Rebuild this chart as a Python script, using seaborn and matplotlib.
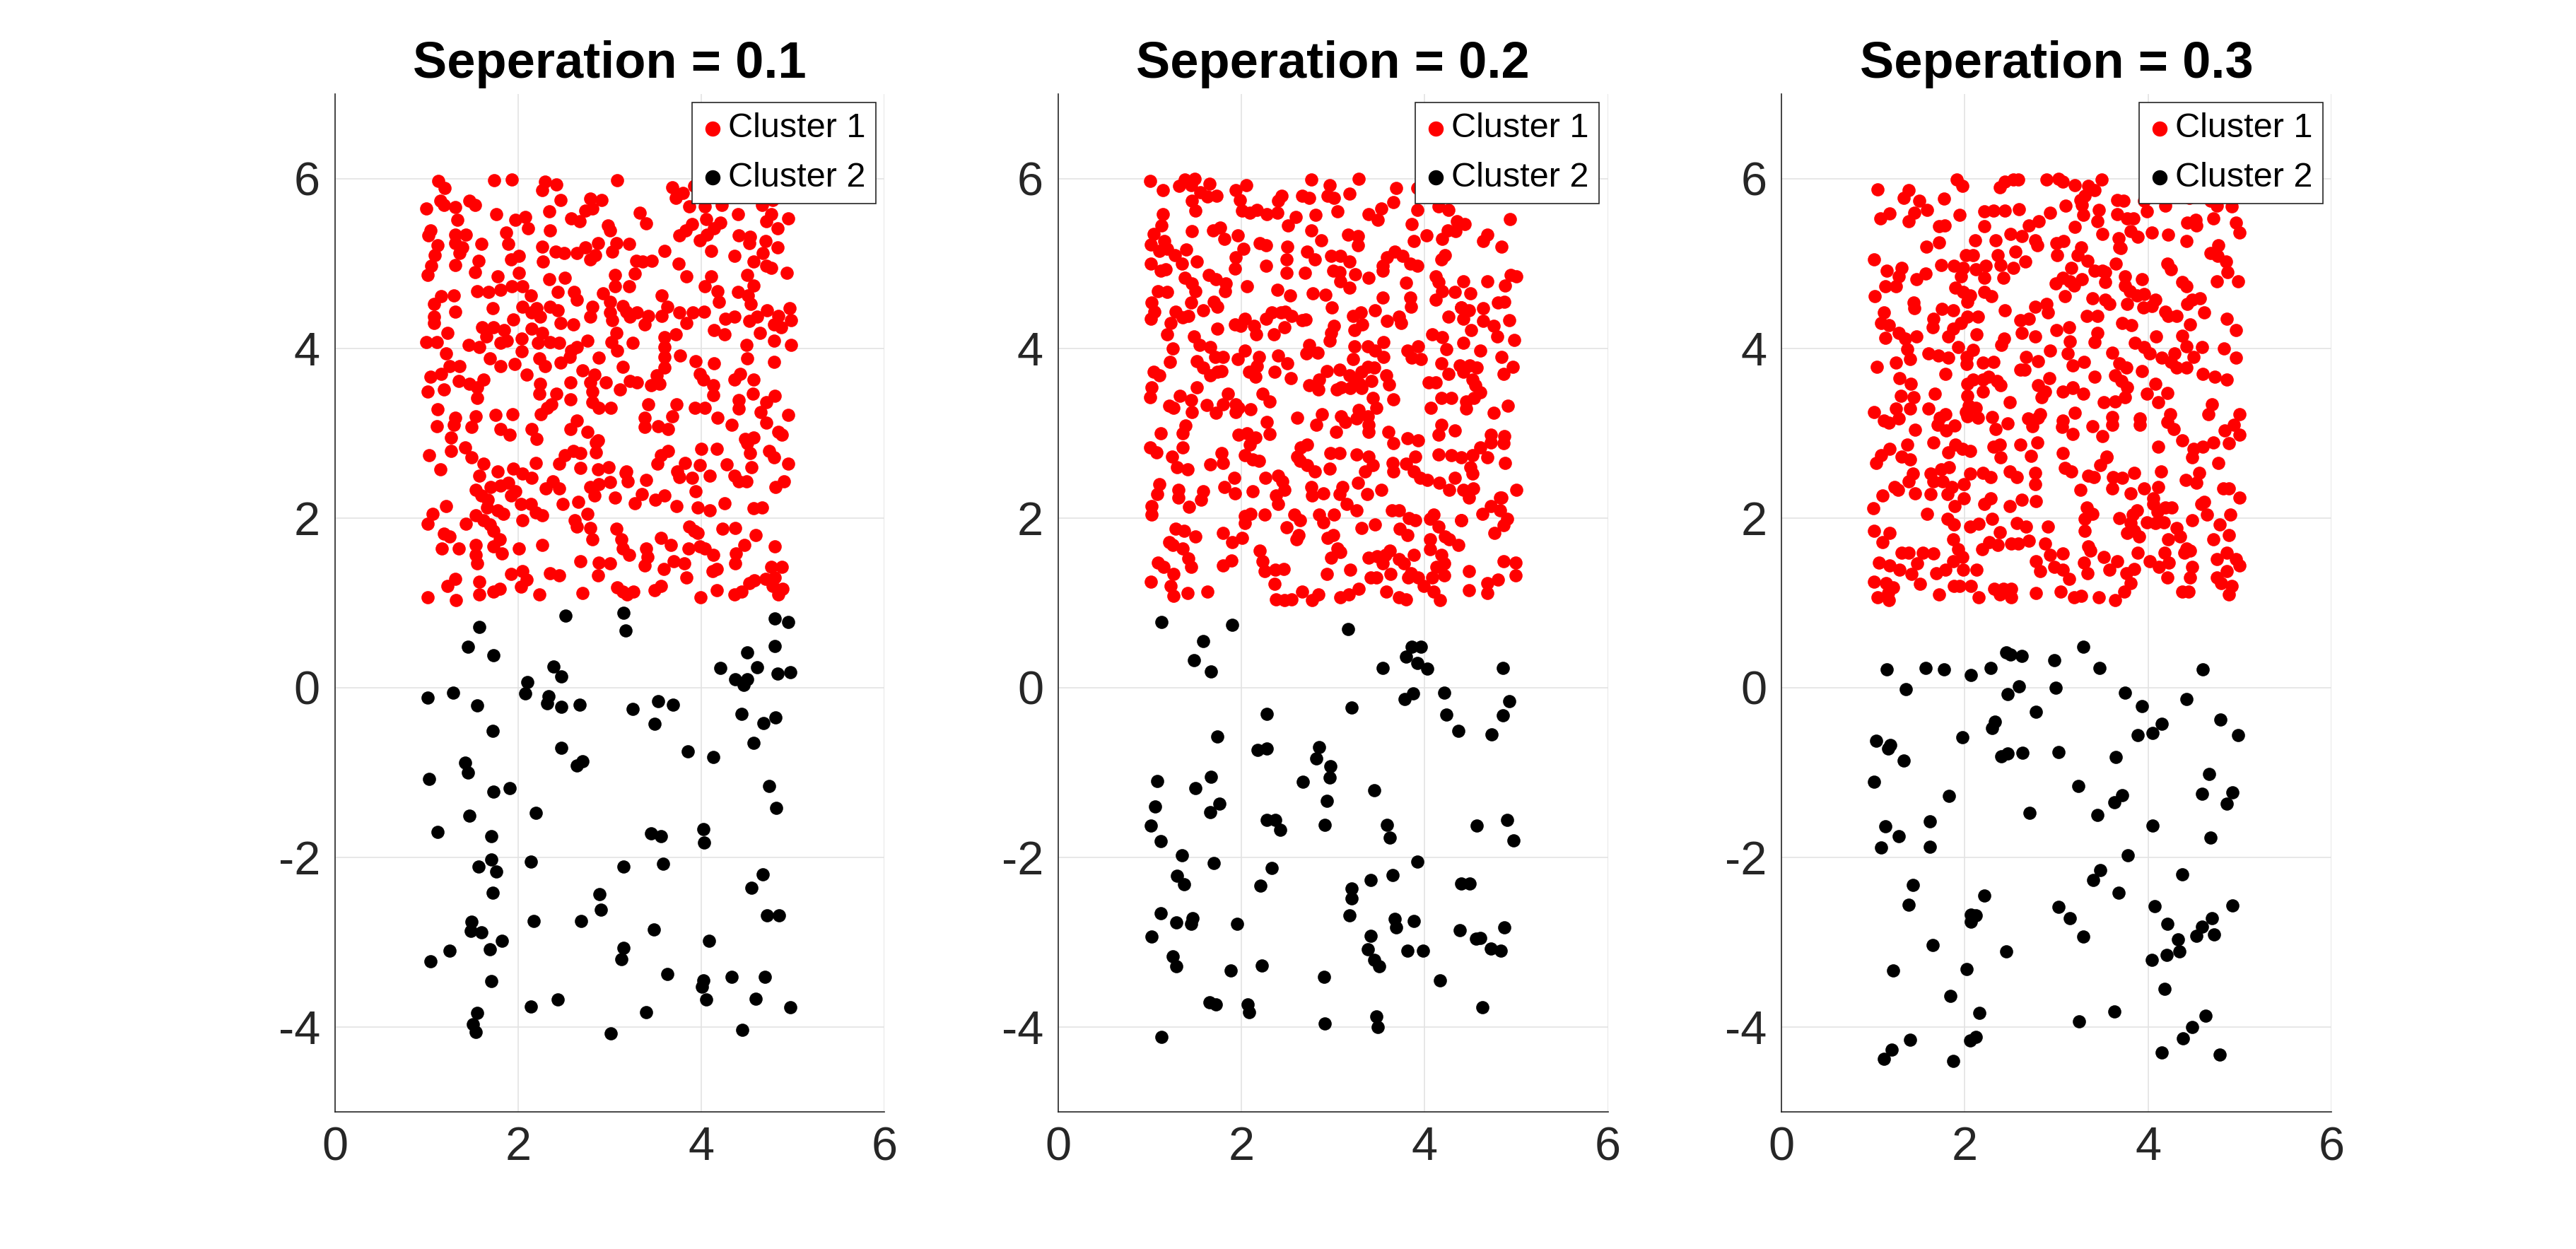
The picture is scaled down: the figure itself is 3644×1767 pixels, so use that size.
import pandas as pd
import matplotlib.pyplot as plt
import seaborn as sns

sns.set_style("white")
plt.rcParams['font.family'] = ['Liberation Sans', 'DejaVu Sans']
plt.rcParams['axes.unicode_minus'] = False

separations = [0.1, 0.2, 0.3]
legend_labels = ['Cluster 1', 'Cluster 2']

red_pts_1 = [
    (1.13,5.97),(1.20,5.89),(1.74,5.98),(1.93,5.99),(2.29,5.96),(2.42,5.93),(2.26,5.86),(3.08,5.98),(3.68,5.90),(3.80,5.83),(3.92,5.91),
    (1.00,5.65),(1.15,5.74),(1.19,5.69),(1.31,5.66),(1.47,5.74),(1.53,5.69),(1.76,5.58),(2.46,5.75),(2.34,5.61),(2.79,5.76),(2.91,5.75),
    (2.81,5.65),(2.73,5.62),(3.33,5.60),(3.72,5.77),(3.87,5.67),(4.04,5.67),(4.22,5.69),(4.40,5.58),(4.66,5.69),(4.78,5.75),(4.95,5.53),(4.76,5.58),
    (1.34,5.51),(1.97,5.51),(2.08,5.55),(2.11,5.41),(2.58,5.53),(2.67,5.50),(2.98,5.45),(3.00,5.39),(3.40,5.47),(4.05,5.52),(3.90,5.46),
    (3.83,5.39),(4.21,5.48),(4.14,5.41),(4.71,5.50),(4.83,5.41),(3.76,5.33),(4.06,5.34),(1.04,5.39),(1.02,5.33),(1.31,5.34),(1.43,5.34),
    (1.87,5.36),(2.35,5.39),(4.41,5.33),(4.53,5.31),
    (1.12,5.21),(1.31,5.24),(1.39,5.19),(1.60,5.23),(1.89,5.23),(2.26,5.20),(2.41,5.14),(2.50,5.12),(2.64,5.12),(2.73,5.19),(2.87,5.24),
    (2.84,5.10),(3.07,5.24),(3.21,5.23),(3.03,5.14),(3.60,5.15),(3.98,5.27),(4.11,5.15),(4.52,5.24),(4.70,5.26),(4.83,5.19),(4.36,5.09),
    (4.67,5.12),(1.09,5.10),(1.36,5.12),(1.92,5.05),(2.01,5.09),(1.57,5.03),
    (1.05,4.97),(1.31,4.98),(1.53,4.90),(2.27,5.02),(1.78,4.85),(2.01,4.89),(2.79,5.05),(3.29,5.03),(3.36,5.02),(3.46,5.03),(3.27,4.88),
    (3.06,4.86),(3.75,5.00),(3.84,4.85),(4.57,5.02),(4.71,4.97),(4.76,4.95),(4.93,4.89),(4.50,4.86),(4.11,4.85),(1.01,4.86),(2.34,4.81),
    (2.51,4.83),(4.04,4.73),(4.57,4.74),
    (1.55,4.67),(1.68,4.66),(1.81,4.69),(1.93,4.73),(2.05,4.73),(1.16,4.61),(1.30,4.62),(1.08,4.52),(2.14,4.62),(2.43,4.66),(2.61,4.66),
    (2.64,4.57),(2.93,4.65),(3.06,4.73),(3.21,4.73),(3.00,4.55),(3.57,4.62),(4.18,4.67),(4.19,4.55),(4.40,4.66),(4.51,4.62),(4.54,4.52),(2.81,4.49),
    (1.31,4.43),(1.72,4.47),(2.05,4.49),(2.20,4.47),(2.35,4.49),(2.43,4.45),(2.15,4.42),(2.24,4.37),(1.08,4.37),(1.08,4.30),(1.95,4.34),
    (2.79,4.37),(3.00,4.42),(3.14,4.50),(3.18,4.43),(3.30,4.42),(3.42,4.38),(3.22,4.37),(3.03,4.33),(3.57,4.38),(3.63,4.49),(3.76,4.42),
    (3.91,4.42),(4.03,4.43),(3.84,4.30),(4.26,4.35),(4.36,4.37),(4.52,4.32),(4.61,4.37),(4.72,4.45),(4.84,4.38),(4.96,4.47),(4.98,4.33),
    (4.79,4.28),(4.87,4.25),(2.46,4.30),(2.60,4.28),(3.38,4.28),
    (1.61,4.25),(1.73,4.25),(1.85,4.21),(1.65,4.14),(1.23,4.18),(1.00,4.07),(1.11,4.07),(1.46,4.04),(1.58,4.01),(1.81,4.06),(1.88,4.09),
    (2.04,4.11),(2.15,4.23),(2.26,4.18),(2.22,4.06),(2.35,4.07),(2.45,4.06),(2.04,3.96),(2.76,4.09),(2.64,4.01),(2.58,3.97),(3.02,4.07),
    (3.07,4.18),(3.08,3.97),(3.25,4.06),(3.60,4.13),(3.72,4.16),(3.60,4.01),(4.14,4.21),(4.25,4.16),(4.64,4.18),(4.49,4.04),(4.79,4.09),
    (4.98,4.04),(3.60,3.90),(1.21,3.94),
    (1.36,3.79),(1.25,3.79),(1.16,3.70),(1.04,3.66),(1.69,3.88),(1.81,3.79),(1.96,3.81),(2.23,3.88),(2.29,3.79),(2.46,3.83),(2.56,3.90),
    (2.88,3.89),(2.70,3.74),(2.83,3.69),(3.14,3.78),(3.77,3.91),(3.60,3.77),(3.51,3.68),(3.94,3.85),(4.14,3.82),(3.98,3.70),(4.50,3.88),
    (4.42,3.70),(4.36,3.63),(4.79,3.84),(2.09,3.69),
    (1.01,3.49),(1.19,3.51),(1.35,3.61),(1.47,3.58),(1.55,3.54),(1.62,3.63),(1.55,3.41),(2.24,3.58),(2.23,3.46),(2.42,3.46),(2.57,3.60),
    (2.57,3.40),(2.79,3.60),(2.81,3.49),(2.96,3.60),(3.11,3.51),(3.22,3.61),(3.30,3.60),(3.45,3.56),(3.54,3.58),(4.02,3.63),(4.13,3.56),
    (4.13,3.45),(4.57,3.63),(4.56,3.46),(4.41,3.39),(4.80,3.44),(4.71,3.36),
    (1.12,3.28),(1.31,3.18),(1.54,3.20),(1.75,3.21),(1.94,3.22),(2.25,3.22),(2.32,3.30),(2.36,3.34),(2.81,3.36),(2.88,3.30),(3.01,3.30),
    (3.42,3.34),(3.73,3.34),(3.93,3.30),(4.04,3.30),(3.68,3.20),(4.18,3.18),(4.41,3.29),(4.65,3.25),(4.95,3.21),(3.38,3.18),(2.64,3.15),
    (1.11,3.08),(1.30,3.10),(1.49,3.07),(1.81,3.05),(1.91,2.98),(2.15,3.05),(2.20,2.93),(2.57,3.05),(2.76,3.01),(2.87,2.91),(3.38,3.07),
    (3.53,3.08),(3.64,3.05),(4.33,3.10),(4.71,3.12),(4.84,3.01),(4.88,2.98),(1.27,2.95),(4.48,2.93),(4.57,2.95),
    (1.27,2.79),(1.42,2.83),(1.49,2.71),(1.03,2.74),(1.15,2.57),(1.62,2.64),(1.78,2.55),(1.95,2.58),(2.19,2.65),(2.51,2.74),(2.60,2.79),
    (2.68,2.76),(2.45,2.64),(2.85,2.77),(2.85,2.89),(2.68,2.59),(2.87,2.57),(2.99,2.60),(3.18,2.55),(3.56,2.74),(3.64,2.79),(3.52,2.64),
    (3.74,2.55),(3.82,2.65),(4.00,2.81),(4.17,2.81),(3.98,2.62),(4.28,2.63),(4.50,2.88),(4.53,2.76),(4.74,2.79),(4.79,2.71),(4.55,2.60),(4.95,2.64),
    (1.58,2.50),(1.54,2.33),(1.70,2.36),(1.81,2.38),(1.89,2.41),(2.05,2.52),(2.15,2.47),(2.30,2.35),(2.38,2.43),(2.45,2.35),(2.79,2.36),
    (2.88,2.40),(3.00,2.42),(3.17,2.53),(3.20,2.43),(3.40,2.45),(3.76,2.48),(3.90,2.47),(4.09,2.50),(3.94,2.31),(4.36,2.50),(4.41,2.43),
    (4.49,2.43),(4.81,2.36),(4.90,2.43),
    (1.60,2.26),(1.67,2.21),(1.92,2.26),(1.97,2.31),(2.03,2.16),(2.14,2.16),(2.49,2.16),(2.66,2.19),(2.83,2.26),(3.06,2.24),(3.27,2.17),
    (3.35,2.28),(3.50,2.21),(3.60,2.26),(3.73,2.14),(3.96,2.12),(4.09,2.09),(4.25,2.17),(4.57,2.11),(4.66,2.12),(1.21,2.14),(1.66,2.12),
    (1.78,2.09),(1.84,2.05),(1.54,2.03),(2.19,2.06),(2.26,2.03),(2.76,2.05),
    (1.07,2.05),(1.01,1.93),(1.43,1.93),(1.69,1.92),(1.62,1.97),(2.05,1.97),(2.62,1.97),(2.64,1.90),(2.79,1.88),(3.07,1.87),(3.87,1.90),
    (3.92,1.85),(3.96,1.82),(4.23,1.87),(4.37,1.88),(4.59,1.80),(1.19,1.81),(1.25,1.78),(1.73,1.85),
    (1.17,1.64),(1.35,1.64),(1.54,1.68),(1.54,1.56),(1.73,1.66),(1.80,1.75),(1.82,1.58),(2.01,1.64),(2.26,1.68),(2.81,1.75),(3.13,1.75),
    (3.14,1.64),(3.21,1.56),(3.40,1.64),(3.41,1.54),(3.56,1.76),(3.67,1.68),(3.86,1.64),(3.98,1.66),(4.04,1.64),(4.13,1.56),(4.38,1.58),
    (4.47,1.68),(4.37,1.46),(4.80,1.66),(2.68,1.49),(1.55,1.46),
    (2.88,1.47),(3.00,1.46),(2.87,1.32),(3.59,1.40),(3.70,1.49),(3.81,1.46),(3.38,1.44),(4.12,1.37),(4.17,1.40),(4.76,1.42),(4.88,1.42),
    (4.80,1.30),(1.31,1.28),(1.23,1.20),(1.58,1.25),(1.92,1.34),(2.05,1.37),(2.09,1.27),(2.03,1.19),(2.35,1.35),(2.45,1.32),(3.84,1.30),
    (4.70,1.28),(4.52,1.23),(4.58,1.26),
    (1.01,1.06),(1.32,1.03),(1.58,1.10),(1.73,1.13),(1.80,1.16),(2.23,1.10),(2.70,1.11),(3.08,1.18),(3.14,1.13),(3.19,1.10),(3.26,1.13),
    (3.49,1.15),(3.56,1.20),(3.99,1.06),(4.17,1.15),(4.36,1.10),(4.44,1.13),(4.84,1.10),(4.89,1.16),(4.78,1.20),
]

# cluster 2 (black) points, panel 1
black_pts_1 = [
    (2.52,0.85),(3.15,0.88),(3.17,0.67),(4.80,0.81),(4.95,0.77),(1.58,0.71),(1.45,0.48),(1.73,0.38),(4.50,0.41),(4.80,0.49),
    (2.39,0.25),(2.47,0.13),(4.21,0.23),(4.61,0.24),(4.83,0.16),(4.97,0.18),(4.37,0.10),(4.50,0.10),(4.46,0.03),(2.10,0.06),
    (2.08,-0.07),(1.01,-0.12),(1.29,-0.06),(1.55,-0.21),(2.33,-0.10),(2.32,-0.19),(2.47,-0.23),(2.67,-0.20),(3.25,-0.25),(3.53,-0.16),
    (3.69,-0.20),(3.49,-0.43),(4.44,-0.31),(4.81,-0.35),(4.68,-0.42),(1.72,-0.51),(4.57,-0.65),(2.47,-0.71),(3.85,-0.75),(4.13,-0.82),
    (2.70,-0.87),(2.64,-0.92),(1.42,-0.89),(1.45,-1.00),(1.03,-1.08),(1.73,-1.23),(1.91,-1.19),(4.74,-1.16),(4.82,-1.42),(2.19,-1.48),
    (1.47,-1.51),(1.12,-1.70),(1.71,-1.75),(3.45,-1.72),(3.56,-1.75),(4.02,-1.67),(4.03,-1.83),(1.71,-2.03),(1.57,-2.11),(1.76,-2.17),
    (2.14,-2.05),(3.15,-2.11),(3.58,-2.08),(4.67,-2.20),(4.55,-2.36),(1.72,-2.42),(2.89,-2.44),(2.90,-2.62),(2.17,-2.75),(2.69,-2.75),
    (1.49,-2.76),(1.48,-2.87),(1.60,-2.89),(1.82,-2.99),(1.69,-3.09),(1.25,-3.10),(1.04,-3.23),(3.48,-2.85),(4.72,-2.69),(4.85,-2.69),
    (4.08,-2.99),(3.15,-3.07),(3.13,-3.20),(3.63,-3.38),(4.02,-3.45),(4.01,-3.53),(4.33,-3.41),(4.69,-3.41),(4.05,-3.68),(4.59,-3.67),
    (4.97,-3.77),(1.71,-3.46),(2.14,-3.76),(2.43,-3.68),(3.40,-3.83),(1.55,-3.84),(1.51,-3.97),(1.54,-4.06),(3.01,-4.08),(4.45,-4.04),
]

# cluster 1 (red) points, panel 2
red_pts_2 = [
    (1.00,5.97),(1.14,5.86),(1.32,5.91),(1.38,5.99),(1.49,6.00),(1.45,5.92),(1.55,5.84),(1.65,5.94),(1.73,5.80),(1.63,5.79),(1.94,5.86),
    (2.05,5.92),(2.44,5.80),(2.40,5.74),(2.66,5.80),(2.74,5.77),(2.76,5.99),(2.96,5.92),(2.94,5.80),(3.01,5.77),(3.18,5.82),(3.28,6.00),
    (3.69,5.89),(3.92,5.89),
    (1.46,5.74),(1.50,5.62),(1.14,5.58),(1.98,5.75),(2.01,5.62),(2.09,5.60),(2.17,5.63),(2.28,5.58),(2.39,5.60),(2.59,5.55),(2.81,5.57),
    (3.05,5.61),(3.39,5.58),(3.49,5.51),(3.53,5.65),(3.66,5.72),(3.92,5.63),(4.15,5.67),(4.26,5.63),(4.93,5.52),(4.72,5.79),
    (1.13,5.45),(1.04,5.35),(1.46,5.38),(1.69,5.39),(1.77,5.42),(1.81,5.29),(1.96,5.33),(2.51,5.45),(2.76,5.39),(2.87,5.27),(3.16,5.34),
    (3.27,5.32),(3.86,5.46),(4.02,5.33),(3.88,5.26),(4.25,5.39),(4.35,5.50),(4.44,5.46),(4.34,5.38),(4.19,5.29),(4.68,5.34),(4.64,5.26),
    (4.84,5.20),(1.01,5.22),(1.16,5.26),
    (1.10,5.15),(1.19,5.17),(1.27,5.10),(1.40,5.16),(1.51,5.02),(1.35,5.00),(1.01,5.00),(2.02,5.17),(1.94,5.07),(1.93,4.94),(2.20,5.24),
    (2.27,5.21),(2.27,4.97),(2.50,5.20),(2.49,5.05),(2.72,5.14),(2.80,5.05),(2.98,5.09),(3.08,5.09),(3.18,5.02),(3.27,5.21),(3.59,5.07),
    (3.67,5.14),(3.76,5.09),(3.84,5.00),(3.92,4.97),(4.22,5.10),(4.18,5.05),(3.54,4.97),
    (1.12,4.91),(1.17,4.93),(2.49,4.89),(2.69,4.89),(3.00,4.91),(3.07,4.90),(3.24,4.87),(3.39,4.83),(3.54,4.91),(3.08,4.79),(3.18,4.71),
    (1.38,4.83),(1.46,4.76),(1.64,4.86),(1.72,4.81),(1.83,4.76),(1.82,4.67),(2.06,4.73),(4.12,4.85),(4.15,4.78),(4.42,4.79),(4.68,4.79),
    (4.94,4.86),(5.00,4.85),(4.88,4.74),(3.80,4.77),
    (1.09,4.67),(1.19,4.66),(1.50,4.67),(1.02,4.54),(1.05,4.43),(1.45,4.54),(1.58,4.45),(1.70,4.55),(1.74,4.49),(2.39,4.69),(2.53,4.62),
    (2.78,4.65),(2.92,4.63),(2.99,4.48),(3.54,4.60),(3.84,4.60),(3.85,4.49),(4.12,4.57),(4.19,4.67),(4.33,4.66),(4.50,4.65),(4.40,4.48),
    (4.48,4.45),(4.64,4.47),(4.80,4.54),(4.87,4.55),(3.46,4.45),
    (1.01,4.35),(1.28,4.43),(1.36,4.36),(1.42,4.38),(1.23,4.30),(1.19,4.16),(1.74,4.23),(1.93,4.28),(2.04,4.35),(2.14,4.26),(2.16,4.16),
    (1.99,4.26),(2.27,4.35),(2.33,4.42),(2.43,4.42),(2.48,4.43),(2.55,4.38),(2.47,4.25),(2.35,4.16),(2.66,4.33),(2.70,4.34),(3.01,4.26),
    (2.98,4.18),(3.22,4.38),(3.30,4.42),(3.32,4.28),(3.23,4.21),(3.59,4.32),(3.72,4.37),(3.74,4.30),(4.26,4.37),(4.42,4.35),(4.40,4.48),
    (4.64,4.32),(4.51,4.21),(4.75,4.26),(4.92,4.33),(4.08,4.16),(4.19,4.13),(4.79,4.14),
    (1.25,4.00),(1.48,4.14),(1.54,4.04),(1.66,4.01),(1.71,3.90),(1.80,3.90),(2.04,3.97),(1.96,3.87),(2.19,3.90),(2.40,3.91),(2.74,4.04),
    (2.71,3.94),(2.83,3.95),(2.96,4.09),(3.23,4.02),(3.22,3.87),(3.38,4.02),(3.46,3.97),(3.55,4.07),(3.55,3.90),(3.81,3.97),(3.93,4.02),
    (3.96,3.87),(3.86,3.89),(4.24,3.99),(4.42,4.06),(4.61,3.97),(4.84,3.90),(4.98,4.10),
    (1.22,3.84),(1.51,3.85),(1.58,3.77),(1.66,3.68),(1.74,3.72),(1.78,3.73),(1.04,3.72),(1.10,3.68),(2.08,3.72),(2.17,3.79),(2.15,3.66),
    (2.36,3.72),(2.50,3.82),(2.54,3.65),(2.74,3.56),(2.85,3.63),(2.93,3.73),(3.07,3.75),(3.18,3.68),(3.23,3.63),(3.31,3.72),(3.38,3.78),
    (3.45,3.77),(3.42,3.61),(3.29,3.58),(3.58,3.68),(3.61,3.57),(4.18,3.82),(4.26,3.70),(4.38,3.80),(4.49,3.80),(4.57,3.77),(4.42,3.72),
    (4.52,3.63),(4.55,3.56),(4.96,3.78),(4.86,3.70),(4.04,3.60),(4.12,3.60),
    (1.02,3.54),(1.00,3.42),(1.51,3.54),(1.33,3.44),(1.45,3.39),(1.21,3.32),(1.26,3.30),(1.62,3.33),(1.85,3.46),(1.80,3.34),(1.94,3.34),
    (1.97,3.30),(2.23,3.46),(2.31,3.37),(2.84,3.51),(3.04,3.51),(3.09,3.54),(3.19,3.53),(3.31,3.53),(3.43,3.41),(3.47,3.30),(3.66,3.40),
    (4.18,3.41),(4.29,3.41),(4.45,3.37),(4.54,3.41),(4.61,3.48),(4.07,3.30),(4.91,3.32),
    (1.46,3.25),(1.72,3.24),(2.10,3.28),(1.94,3.25),(2.61,3.18),(2.28,3.13),(2.88,3.22),(2.82,3.10),(3.09,3.20),(3.13,3.13),(3.26,3.17),
    (3.28,3.27),(3.38,3.20),(3.39,3.10),(4.45,3.29),(4.75,3.24),(1.39,3.09),(4.18,3.10),
    (1.12,3.00),(1.36,3.00),(1.97,2.98),(2.06,3.00),(2.15,2.95),(2.31,2.99),(2.09,2.86),(3.03,3.01),(3.39,3.01),(3.60,3.01),(3.66,2.88),
    (3.81,2.94),(3.93,2.91),(4.15,2.98),(4.33,3.03),(4.72,2.98),(4.87,2.96),(4.72,2.89),(4.86,2.88),(1.00,2.83),(1.07,2.77),(1.36,2.83),
    (2.65,2.83),(2.72,2.86),(4.61,2.83),
    (1.24,2.72),(1.78,2.76),(1.80,2.65),(1.66,2.63),(2.04,2.74),(2.12,2.69),(2.19,2.67),(2.61,2.72),(2.64,2.67),(2.72,2.62),(2.80,2.55),
    (2.97,2.76),(3.07,2.76),(2.96,2.58),(3.26,2.75),(3.39,2.72),(3.43,2.62),(3.35,2.55),(3.65,2.65),(3.66,2.55),(3.80,2.64),(3.90,2.72),
    (4.15,2.75),(4.29,2.74),(4.40,2.71),(4.52,2.74),(4.68,2.71),(4.88,2.65),(4.50,2.60),(4.52,2.52),(1.30,2.60),(1.41,2.57),(3.88,2.55),
    (1.10,2.40),(1.08,2.28),(1.31,2.33),(1.31,2.24),(1.58,2.31),(1.56,2.21),(1.43,2.13),(1.81,2.36),(1.92,2.47),(1.93,2.29),(2.12,2.31),
    (2.26,2.47),(2.40,2.50),(2.45,2.43),(2.47,2.33),(2.38,2.26),(2.40,2.16),(2.76,2.36),(2.77,2.26),(2.89,2.29),(3.10,2.36),(3.07,2.28),
    (3.27,2.41),(3.37,2.28),(3.53,2.33),(3.95,2.47),(4.03,2.45),(4.16,2.41),(4.27,2.33),(4.33,2.47),(4.42,2.33),(4.53,2.35),(4.48,2.24),
    (4.84,2.24),(5.00,2.33),
    (1.02,2.14),(1.02,2.04),(2.04,2.02),(2.10,2.05),(2.25,2.04),(2.58,2.04),(2.64,1.97),(2.85,2.04),(2.89,1.95),(3.01,2.04),(3.15,2.16),
    (3.26,2.09),(3.64,2.09),(3.72,2.09),(3.83,2.00),(3.90,1.97),(4.06,1.99),(4.10,2.04),(4.40,1.97),(4.63,2.05),(4.72,2.14),(4.82,2.09),
    (4.90,1.99),(4.82,2.24),
    (1.28,1.87),(1.37,1.85),(1.50,1.78),(1.21,1.71),(1.25,1.68),(1.80,1.82),(1.90,1.71),(2.01,1.76),(2.04,1.94),(2.49,1.89),(2.62,1.80),
    (2.60,1.75),(2.94,1.76),(3.00,1.80),(3.31,1.88),(3.46,1.92),(3.73,1.87),(3.81,1.80),(4.15,1.90),(4.22,1.78),(4.27,1.75),(4.06,1.75),
    (4.37,1.68),(4.40,1.97),(4.76,1.82),(4.86,1.91),
    (1.36,1.64),(1.42,1.52),(1.45,1.42),(1.09,1.47),(1.15,1.42),(1.89,1.50),(1.80,1.44),(2.20,1.61),(2.23,1.49),(3.05,1.64),(3.08,1.60),
    (2.98,1.53),(3.39,1.53),(3.48,1.55),(3.57,1.56),(3.62,1.61),(3.54,1.46),(3.72,1.51),(3.77,1.46),(3.88,1.56),(4.06,1.63),(4.18,1.56),
    (4.21,1.46),(4.13,1.42),(4.86,1.49),(4.99,1.47),
    (1.01,1.25),(1.26,1.34),(1.23,1.20),(1.26,1.08),(1.41,1.11),(1.63,1.13),(2.25,1.37),(2.37,1.39),(2.46,1.40),(2.36,1.22),(2.38,1.04),
    (2.47,1.03),(2.55,1.04),(2.66,1.13),(2.77,1.03),(2.84,1.10),(2.93,1.34),(3.08,1.06),(3.17,1.10),(3.19,1.39),(3.28,1.16),(3.41,1.30),
    (3.47,1.30),(3.58,1.13),(3.63,1.34),(3.72,1.06),(3.80,1.04),(3.82,1.30),(3.85,1.35),(3.93,1.30),(3.99,1.20),(4.08,1.30),(4.17,1.03),
    (4.10,1.13),(4.21,1.32),(4.48,1.37),(4.48,1.15),(4.68,1.23),(4.68,1.11),(4.80,1.27),(4.99,1.32),
]

# cluster 2 (black) points, panel 2
black_pts_2 = [
    (1.13,0.77),(1.90,0.74),(1.58,0.55),(1.48,0.32),(1.67,0.19),(3.16,0.69),(3.86,0.48),(3.96,0.48),(3.80,0.36),(3.92,0.29),
    (4.03,0.22),(3.54,0.23),(4.85,0.23),(3.87,-0.07),(3.78,-0.14),(4.21,-0.06),(4.92,-0.16),(4.24,-0.32),(4.85,-0.33),(4.37,-0.51),
    (4.73,-0.55),(3.20,-0.24),(2.28,-0.31),(1.74,-0.58),(2.18,-0.74),(2.28,-0.72),(2.85,-0.70),(2.82,-0.84),(2.97,-0.93),(2.96,-1.06),
    (2.67,-1.11),(3.45,-1.21),(1.08,-1.10),(1.50,-1.19),(1.67,-1.05),(1.76,-1.37),(1.66,-1.47),(1.06,-1.40),(1.01,-1.63),(1.12,-1.81),
    (2.93,-1.34),(2.91,-1.62),(2.28,-1.56),(2.37,-1.56),(2.42,-1.68),(3.59,-1.62),(3.62,-1.77),(4.57,-1.63),(4.90,-1.56),(4.97,-1.80),
    (1.35,-1.98),(1.70,-2.07),(1.30,-2.22),(1.37,-2.32),(2.33,-2.13),(2.21,-2.34),(3.92,-2.05),(3.65,-2.21),(3.41,-2.27),(3.20,-2.37),
    (3.20,-2.49),(4.40,-2.31),(4.49,-2.31),(3.18,-2.69),(3.67,-2.73),(3.69,-2.83),(3.88,-2.75),(3.41,-2.93),(3.38,-3.09),(3.45,-3.21),
    (3.50,-3.29),(3.81,-3.10),(3.98,-3.10),(4.38,-2.86),(4.56,-2.96),(4.61,-2.95),(4.72,-3.08),(4.83,-3.10),(4.87,-2.83),(4.17,-3.45),
    (4.63,-3.77),(1.12,-2.66),(1.29,-2.77),(1.47,-2.72),(1.45,-2.79),(1.02,-2.94),(1.95,-2.79),(1.25,-3.17),(1.29,-3.29),(1.88,-3.34),
    (2.22,-3.28),(2.90,-3.41),(1.65,-3.71),(1.72,-3.74),(2.07,-3.74),(2.08,-3.83),(2.91,-3.96),(3.47,-3.88),(3.49,-4.00),(1.13,-4.12),
]

# cluster 1 (red) points, panel 3
red_pts_3 = [
    (1.05,5.87),(1.39,5.86),(1.33,5.77),(1.91,5.99),(1.97,5.91),(2.38,5.90),(2.44,5.96),(2.53,5.99),(2.58,5.99),(2.89,5.99),(3.02,6.00),
    (3.07,5.96),(3.20,5.92),(3.35,5.91),(3.42,5.86),(3.49,5.99),(1.77,5.76),(1.50,5.74),(3.26,5.75),(3.31,5.80),(3.66,5.75),(3.73,5.74),
    (3.96,5.74),(4.45,5.77),(4.68,5.74),
    (1.18,5.59),(1.08,5.53),(1.39,5.50),(1.45,5.60),(1.59,5.63),(1.94,5.57),(2.21,5.61),(2.31,5.62),(2.44,5.62),(2.59,5.64),(2.93,5.60),
    (3.10,5.68),(3.28,5.69),(3.29,5.57),(3.46,5.63),(3.66,5.58),(3.77,5.53),(3.84,5.53),(3.99,5.61),(4.19,5.68),(4.75,5.68),(4.91,5.67),
    (4.71,5.53),(4.96,5.48),(4.43,5.48),(4.52,5.51),(3.45,5.50),(1.72,5.44),(1.78,5.45),(2.21,5.44),(2.70,5.45),(2.81,5.50),(3.20,5.43),
    (2.50,5.35),(2.62,5.32),(2.34,5.27),(2.11,5.27),(1.72,5.25),(1.58,5.20),(2.77,5.27),(2.79,5.21),(3.00,5.24),(3.08,5.26),(3.50,5.35),
    (3.68,5.30),(3.70,5.18),(3.81,5.38),(3.89,5.31),(4.04,5.36),(4.22,5.34),(4.42,5.26),(4.53,5.45),(5.00,5.36),(4.77,5.21),(3.27,5.19),
    (1.01,5.05),(1.15,4.91),(1.31,4.95),(1.74,4.98),(1.88,4.97),(2.01,5.10),(2.09,5.10),(1.98,4.95),(2.12,4.93),(2.23,4.97),(2.36,5.10),
    (2.39,4.98),(2.53,4.95),(2.55,5.14),(2.66,5.02),(3.01,5.10),(3.16,4.95),(3.23,5.10),(3.34,5.03),(3.42,4.91),(3.53,4.90),(3.65,5.00),
    (3.69,5.19),(4.21,5.00),(4.25,4.93),(4.68,5.12),(4.76,5.09),(4.85,5.02),(4.87,4.90),
    (1.28,4.85),(1.25,4.73),(1.13,4.73),(1.47,4.81),(1.57,4.88),(1.96,4.85),(2.21,4.83),(2.42,4.83),(1.90,4.71),(2.99,4.76),(3.07,4.83),
    (3.15,4.79),(3.19,4.74),(3.28,4.81),(3.53,4.78),(3.75,4.85),(3.75,4.74),(3.93,4.81),(4.37,4.78),(4.42,4.73),(4.75,4.79),(4.98,4.79),
    (3.50,4.91),(1.02,4.61),(3.80,4.67),
    (1.44,4.54),(1.45,4.47),(1.75,4.46),(1.87,4.45),(1.98,4.66),(2.06,4.62),(2.03,4.55),(2.21,4.66),(2.29,4.61),(2.44,4.45),(2.77,4.49),
    (2.89,4.52),(2.91,4.42),(3.09,4.61),(3.39,4.59),(3.53,4.57),(3.58,4.52),(3.77,4.52),(3.88,4.62),(3.96,4.64),(3.95,4.48),(4.04,4.50),
    (4.08,4.57),(4.19,4.43),(4.31,4.38),(4.43,4.52),(4.48,4.57),(4.57,4.59),(4.61,4.42),(1.12,4.42),(3.33,4.38),(3.45,4.38),(4.22,4.38),
    (1.09,4.30),(1.17,4.27),(1.66,4.35),(1.65,4.25),(1.87,4.23),(1.96,4.30),(2.03,4.37),(2.14,4.37),(1.28,4.18),(1.13,4.12),(1.47,4.14),
    (1.35,4.11),(1.82,4.14),(2.13,4.16),(2.43,4.11),(2.40,4.04),(2.61,4.33),(2.70,4.35),(2.62,4.18),(2.77,4.14),(3.00,4.21),(3.14,4.25),
    (3.45,4.18),(3.72,4.30),(3.82,4.27),(4.09,4.14),(4.37,4.15),(4.46,4.28),(4.86,4.35),(4.96,4.21),
    (1.37,3.99),(1.40,3.87),(1.60,3.94),(1.71,3.91),(1.82,3.89),(1.93,4.01),(2.02,3.90),(2.09,3.98),(2.02,3.81),(1.25,3.83),(1.04,3.78),
    (2.20,3.83),(2.31,3.84),(2.67,3.90),(2.80,3.85),(2.93,3.97),(2.65,3.75),(3.15,4.08),(3.12,3.94),(3.18,3.80),(3.30,3.84),(3.42,4.07),
    (3.61,3.95),(3.69,3.82),(3.76,3.77),(3.86,4.06),(3.96,4.01),(4.02,3.94),(4.15,3.89),(4.25,3.84),(4.29,3.94),(4.42,4.02),(4.50,3.90),
    (4.59,4.01),(4.83,4.00),(4.96,3.89),
    (1.79,3.70),(1.29,3.65),(1.41,3.58),(2.03,3.58),(2.09,3.63),(2.20,3.63),(2.26,3.66),(2.35,3.61),(2.39,3.56),(2.20,3.49),(2.61,3.75),
    (2.80,3.56),(2.92,3.65),(2.88,3.49),(3.42,3.66),(3.64,3.68),(3.71,3.61),(3.77,3.54),(3.93,3.73),(4.08,3.58),(4.31,3.77),(4.42,3.77),
    (4.60,3.70),(4.73,3.66),(4.86,3.63),(3.18,3.54),
    (1.30,3.44),(1.44,3.42),(1.67,3.46),(2.03,3.44),(2.04,3.32),(2.01,3.25),(2.12,3.30),(2.49,3.36),(2.84,3.42),(3.07,3.49),(3.18,3.53),
    (3.29,3.46),(3.64,3.37),(3.75,3.42),(3.52,3.36),(3.99,3.46),(4.21,3.47),(4.11,3.36),(4.70,3.34),(4.66,3.22),(1.01,3.25),(1.25,3.29),
    (1.40,3.29),(1.60,3.29),
    (1.12,3.15),(1.17,3.12),(1.28,3.17),(1.73,3.18),(1.79,3.22),(1.70,3.10),(1.80,3.03),(1.89,3.09),(1.46,3.04),(2.03,3.20),(2.14,3.18),
    (2.30,3.19),(2.34,3.05),(2.47,3.11),(2.69,3.17),(2.80,3.18),(2.74,3.08),(2.82,3.22),(3.07,3.15),(3.06,3.07),(3.20,3.24),(3.18,2.99),
    (3.39,3.08),(3.50,2.96),(3.61,3.19),(3.61,3.10),(3.91,3.17),(3.91,3.10),(4.24,3.22),(4.21,3.13),(4.28,3.05),(4.37,2.91),(5.00,3.22),
    (4.84,3.03),(4.94,3.10),(5.00,2.98),
    (1.18,2.81),(1.09,2.74),(1.03,2.65),(1.37,2.86),(1.31,2.72),(1.40,2.69),(1.66,2.89),(1.82,2.77),(1.90,2.86),(1.97,2.81),(2.06,2.79),
    (2.31,2.84),(2.38,2.86),(2.39,2.71),(2.61,2.86),(2.79,2.89),(2.72,2.73),(3.07,2.76),(4.11,2.84),(4.50,2.81),(4.60,2.84),(4.71,2.89),
    (4.88,2.88),(4.48,2.71),(3.55,2.72),
    (1.43,2.52),(1.39,2.43),(1.63,2.52),(1.66,2.43),(1.74,2.57),(1.83,2.60),(1.76,2.43),(2.06,2.52),(2.20,2.53),(2.28,2.48),(2.49,2.55),
    (2.57,2.48),(2.77,2.53),(3.09,2.59),(3.16,2.55),(3.48,2.62),(3.35,2.50),(3.41,2.48),(3.62,2.48),(3.72,2.47),(3.85,2.53),(4.14,2.55),
    (4.56,2.53),(4.77,2.65),(3.55,2.71),
    (1.10,2.26),(1.23,2.36),(1.27,2.33),(1.46,2.29),(1.63,2.28),(1.81,2.28),(1.86,2.36),(1.99,2.40),(1.99,2.23),(2.28,2.23),(2.21,2.16),
    (2.62,2.21),(2.77,2.40),(2.78,2.20),(2.49,2.14),(3.26,2.33),(3.61,2.35),(3.81,2.29),(3.96,2.35),(4.11,2.36),(4.06,2.23),(4.41,2.45),
    (4.53,2.41),(4.61,2.19),(4.82,2.35),(4.88,2.35),(5.00,2.24),
    (1.00,2.11),(1.59,2.05),(1.89,2.14),(1.81,1.99),(1.88,1.92),(2.06,1.90),(2.15,1.93),(2.30,1.99),(2.57,1.94),(2.67,1.90),(2.91,1.90),
    (3.33,2.12),(3.39,2.05),(3.31,1.99),(3.69,2.00),(3.83,2.04),(3.88,2.09),(3.81,1.94),(3.99,1.95),(4.06,2.16),(4.10,2.07),(4.19,2.12),
    (4.26,2.12),(4.08,1.94),(4.17,1.95),(4.48,1.97),(4.64,2.04),(4.58,2.16),(4.90,2.04),(4.78,1.92),
    (1.01,1.85),(1.18,1.82),(1.10,1.71),(1.87,1.75),(1.93,1.63),(2.38,1.83),(2.27,1.71),(2.19,1.63),(2.36,1.68),(2.51,1.70),(2.58,1.70),
    (2.70,1.73),(2.88,1.70),(3.35,1.66),(3.31,1.85),(3.77,1.82),(3.85,1.85),(3.90,1.78),(4.31,1.88),(4.35,1.78),(4.22,1.75),(4.71,1.75),
    (4.88,1.80),(4.42,1.64),(4.46,1.61),
    (1.31,1.59),(1.39,1.59),(1.54,1.59),(1.66,1.58),(1.06,1.47),(1.18,1.44),(1.29,1.39),(1.48,1.46),(1.42,1.34),(1.69,1.35),(1.79,1.39),
    (1.87,1.49),(1.97,1.54),(1.98,1.39),(2.13,1.39),(2.78,1.49),(2.93,1.56),(3.07,1.58),(2.82,1.37),(2.98,1.42),(3.07,1.39),(3.14,1.28),
    (3.30,1.47),(3.34,1.35),(3.37,1.61),(3.52,1.54),(3.66,1.49),(3.58,1.39),(3.76,1.35),(3.85,1.40),(3.89,1.59),(4.02,1.49),(4.12,1.42),
    (4.18,1.59),(4.23,1.47),(4.40,1.59),(4.48,1.42),(4.75,1.51),(4.86,1.59),(4.96,1.51),(5.00,1.44),
    (1.01,1.25),(1.14,1.23),(1.22,1.18),(1.16,1.11),(1.05,1.06),(1.17,1.03),(1.51,1.22),(1.72,1.10),(1.88,1.20),(1.94,1.20),(2.07,1.20),
    (2.15,1.06),(2.32,1.16),(2.42,1.16),(2.51,1.16),(2.51,1.06),(2.38,1.10),(2.78,1.11),(3.05,1.13),(3.19,1.06),(3.27,1.08),(3.46,1.06),
    (3.64,1.03),(3.74,1.13),(3.81,1.23),(4.21,1.30),(4.37,1.13),(4.44,1.13),(4.46,1.30),(4.75,1.30),(4.80,1.23),(4.88,1.10),(4.91,1.20),(4.86,1.37),
]

# cluster 2 (black) points, panel 3
black_pts_3 = [
    (1.15,0.21),(1.57,0.23),(1.77,0.21),(2.07,0.15),(2.28,0.23),(2.45,0.41),(2.50,0.39),(2.62,0.37),(2.98,0.32),(3.29,0.48),
    (3.47,0.23),(4.60,0.21),(1.36,-0.02),(2.47,-0.08),(2.59,0.01),(2.99,0.00),(3.75,-0.06),(3.93,-0.22),(4.42,-0.14),(2.78,-0.29),
    (2.33,-0.40),(2.30,-0.48),(4.15,-0.43),(4.05,-0.54),(3.89,-0.56),(4.79,-0.38),(4.98,-0.56),(1.97,-0.59),(1.03,-0.63),(1.19,-0.68),
    (1.16,-0.72),(1.33,-0.86),(1.01,-1.11),(2.40,-0.81),(2.47,-0.78),(2.63,-0.77),(3.02,-0.76),(3.65,-0.82),(4.67,-1.02),(3.24,-1.16),
    (3.72,-1.27),(3.63,-1.35),(4.59,-1.25),(4.92,-1.24),(4.86,-1.37),(1.83,-1.28),(2.71,-1.48),(3.45,-1.50),(4.05,-1.63),(4.68,-1.77),
    (1.13,-1.64),(1.28,-1.75),(1.09,-1.89),(1.62,-1.58),(1.62,-1.88),(3.78,-1.98),(3.48,-2.15),(3.40,-2.27),(4.37,-2.20),(3.68,-2.42),
    (1.43,-2.33),(1.39,-2.56),(2.21,-2.45),(2.07,-2.68),(2.12,-2.69),(2.07,-2.76),(3.02,-2.59),(3.15,-2.72),(3.29,-2.94),(4.07,-2.58),
    (4.92,-2.57),(4.70,-2.72),(4.59,-2.82),(4.53,-2.93),(4.72,-2.91),(4.21,-2.79),(4.33,-2.97),(4.34,-3.11),(4.20,-3.15),(4.04,-3.21),
    (1.65,-3.04),(2.45,-3.11),(1.22,-3.34),(2.02,-3.32),(4.18,-3.55),(1.84,-3.64),(2.16,-3.84),(3.25,-3.94),(3.63,-3.82),(4.63,-3.87),
    (4.48,-4.00),(4.38,-4.14),(4.15,-4.30),(4.78,-4.33),(1.40,-4.15),(1.20,-4.27),(1.12,-4.38),(1.87,-4.40),(2.06,-4.16),(2.12,-4.12),
]

panels = [(red_pts_1, black_pts_1), (red_pts_2, black_pts_2), (red_pts_3, black_pts_3)]
# matlab style subplot(1,3,k) positions
lefts = [0.13, 0.4108, 0.6916]

fig = plt.figure(figsize=(36.44, 17.67), dpi=100)

for left, sep, (red, black) in zip(lefts, separations, panels):
    ax = fig.add_axes([left, 0.11, 0.2134, 0.815])
    red_df = pd.DataFrame(red, columns=['x', 'y'])
    black_df = pd.DataFrame(black, columns=['x', 'y'])
    sns.scatterplot(data=red_df, x='x', y='y', color='#ff0000', s=180, linewidth=0,
                    label=legend_labels[0], ax=ax, zorder=3)
    sns.scatterplot(data=black_df, x='x', y='y', color='black', s=180, linewidth=0,
                    label=legend_labels[1], ax=ax, zorder=3)

    ax.set_xlim(0, 6)
    ax.set_ylim(-5, 7)
    ax.set_xticks([0, 2, 4, 6])
    ax.set_yticks([-4, -2, 0, 2, 4, 6])
    ax.set_xlabel('')
    ax.set_ylabel('')
    ax.grid(True, color='#e3e3e3', linewidth=1.2)
    ax.set_axisbelow(True)
    for side in ['top', 'right']:
        ax.spines[side].set_visible(False)
    for side in ['left', 'bottom']:
        ax.spines[side].set_color('#262626')
        ax.spines[side].set_linewidth(1.2)
    ax.tick_params(direction='in', length=10, width=1.2, color='#262626',
                   labelcolor='#262626', labelsize=48, pad=15)
    ax.set_title(f'Seperation = {sep}', fontsize=52, fontweight='bold',
                 color='black', pad=16)

    leg = ax.legend(loc='upper right', fontsize=35, frameon=True, fancybox=False,
                    framealpha=1, edgecolor='#262626', borderpad=0.3,
                    labelspacing=0.5, handlelength=0.6, handletextpad=0.15,
                    borderaxespad=0.25, markerscale=1.15)
    leg.get_frame().set_linewidth(1.2)
    for txt in leg.get_texts():
        txt.set_color('black')

fig.savefig('out.png', dpi=100, facecolor='white')
